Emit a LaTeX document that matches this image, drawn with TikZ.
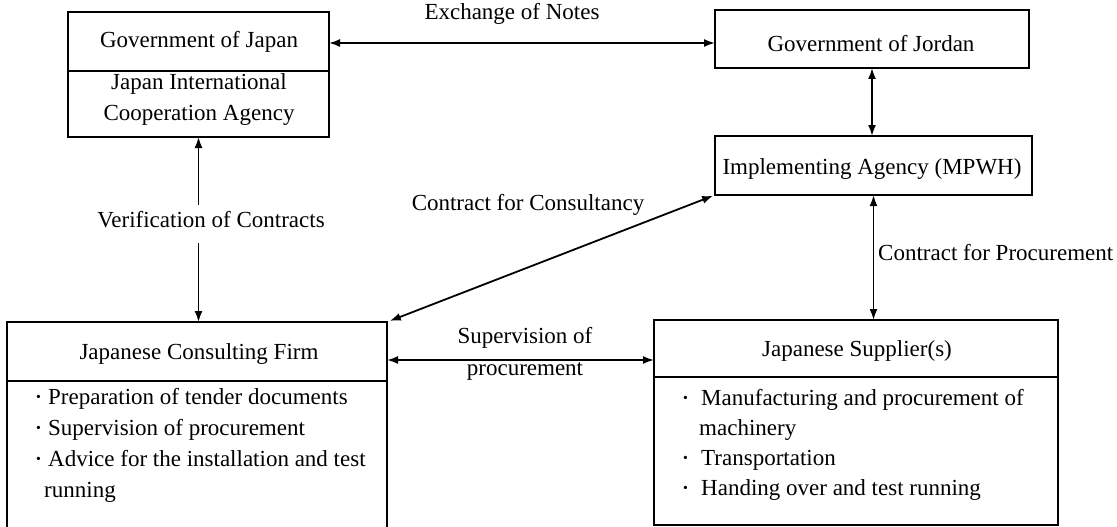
\documentclass[tikz,border=0pt]{standalone}
\usepackage{fontspec}
\usepackage{graphicx}
\setmainfont{Liberation Serif}
\usetikzlibrary{arrows.meta}
\newcommand{\bul}[1]{\makebox[#1][l]{\raisebox{0.3ex}{\scalebox{0.6}{\textbullet}}}}
\begin{document}
\begin{tikzpicture}[x=1pt,y=-1pt,
  box/.style={draw, line width=1.8pt, inner sep=0pt, outer sep=0pt, anchor=north west},
  tip/.tip={Latex[length=11pt,width=8pt]},
  conn/.style={line width=1.8pt},
  lbl/.style={font=\fontsize{23}{30}\selectfont, inner sep=0pt}]
\useasboundingbox (0,0) rectangle (1117,527);
% boxes
\node[box, minimum width=261pt, minimum height=125pt] (japan) at (68,12) {};
\draw[conn] ([yshift=-59pt]japan.north west) -- ([yshift=-59pt]japan.north east);
\node[box, minimum width=314pt, minimum height=58pt] (jordan) at (715,10) {};
\node[box, minimum width=317pt, minimum height=59pt] (mpwh) at (715,136) {};
\node[box, minimum width=380pt, minimum height=208pt] (cons) at (7,322) {};
\draw[conn] ([yshift=-59pt]cons.north west) -- ([yshift=-59pt]cons.north east);
\node[box, minimum width=404pt, minimum height=205pt] (supp) at (654,320) {};
\draw[conn] ([yshift=-57pt]supp.north west) -- ([yshift=-57pt]supp.north east);
% box texts
\node[lbl] (tjapan) at (199,42) {Government of Japan};
\node[lbl, align=center, font=\fontsize{23}{31}\selectfont] (tjica) at (199,100) {Japan International\\Cooperation Agency};
\node[lbl] (tjordan) at (871,44) {Government of Jordan};
\node[lbl] (tmpwh) at (872,169) {Implementing Agency (MPWH)};
\node[lbl] (tcons) at (199,354) {Japanese Consulting Firm};
\node[lbl, align=left, anchor=north west, font=\fontsize{23}{31}\selectfont] (lcons) at (36,388)
  {\bul{12pt}Preparation of tender documents\\
   \bul{12pt}Supervision of procurement\\
   \bul{12pt}Advice for the installation and test\\
   \hspace{8pt}running};
\node[lbl] (tsupp) at (857,351) {Japanese Supplier(s)};
\node[lbl, align=left, anchor=north west, font=\fontsize{23}{30}\selectfont] (lsupp) at (683,389)
  {\bul{18pt}Manufacturing and procurement of\\
   \hspace{16pt}machinery\\
   \bul{18pt}Transportation\\
   \bul{18pt}Handing over and test running};
% connectors
\coordinate (ex) at (0,43);
\coordinate (sv) at (0,360);
\coordinate (g1) at (0,205);
\coordinate (g2) at (0,243);
\draw[conn, tip-tip] (japan.north east |- ex) -- (jordan.west |- ex);
\draw[conn, tip-tip] (jordan.south) -- (jordan.south |- mpwh.north);
\draw[conn, tip-tip] (mpwh.south) -- (mpwh.south |- supp.north);
\draw[conn, tip-] (japan.south) -- (japan.south |- g1);
\draw[conn, -tip] (japan.south |- g2) -- (japan.south |- cons.north);
\draw[conn, tip-tip, shorten <=3pt, shorten >=2pt] (cons.north east) -- (mpwh.south west);
\draw[conn, tip-tip] (cons.east |- sv) -- (supp.west |- sv);
% connector labels
\node[lbl] (lex) at (512,14) {Exchange of Notes};
\node[lbl] (lver) at (211,220) {Verification of Contracts};
\node[lbl] (lcc) at (528,205) {Contract for Consultancy};
\node[lbl, anchor=west] (lcp) at (878,253) {Contract for Procurement};
\node[lbl, align=center, font=\fontsize{23}{32}\selectfont] (lsv) at (525,354) {Supervision of\\procurement};
\end{tikzpicture}
\end{document}
